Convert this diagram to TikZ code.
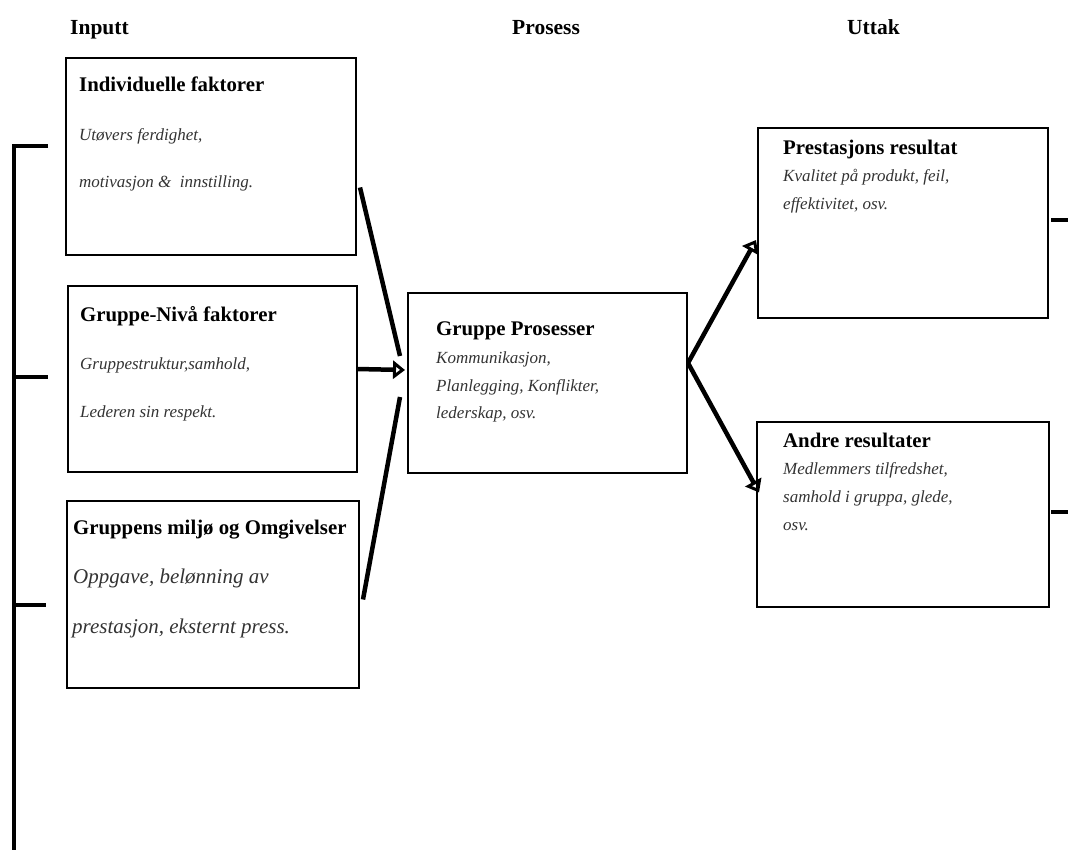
\documentclass[tikz,border=0pt]{standalone}
\usepackage{fontspec}
\setmainfont{Liberation Serif}
\usetikzlibrary{calc,arrows.meta}
\begin{document}
\begin{tikzpicture}[x=1pt,y=-1pt,
  box/.style={draw, line width=1.3pt, anchor=north west, inner sep=0pt, outer sep=0pt},
  ttl/.style={anchor=base west, font=\fontsize{20.8}{24}\selectfont\bfseries, inner sep=0pt},
  desc/.style={anchor=base west, font=\fontsize{17}{20}\selectfont\itshape, text=black!80, inner sep=0pt},
  descbig/.style={anchor=base west, font=\fontsize{21}{24}\selectfont\itshape, text=black!80, inner sep=0pt},
  hdr/.style={anchor=base west, font=\fontsize{21.5}{24}\selectfont\bfseries, inner sep=0pt},
  flow/.style={line width=4.5pt},
  flowarrow/.style={line width=4.5pt, -{Triangle[open,length=12pt,width=18pt,line width=3.5pt]}},
  brk/.style={line width=3.2pt}]
\useasboundingbox (0,0) rectangle (1068,850);

% headers
\node[hdr] (hin) at (70,35) {Inputt};
\node[hdr] (hpro) at (512,35) {Prosess};
\node[hdr] (hut) at (847,35) {Uttak};

% boxes
\node[box, minimum width=290pt, minimum height=197pt] (b1) at (66,58) {};
\node[box, minimum width=289pt, minimum height=186pt] (b2) at (68,286) {};
\node[box, minimum width=292pt, minimum height=187pt] (b3) at (67,501) {};
\node[box, minimum width=279pt, minimum height=180pt] (bp) at (408,293) {};
\node[box, minimum width=290pt, minimum height=190pt] (r1) at (758,128) {};
\node[box, minimum width=292pt, minimum height=185pt] (r2) at (757,422) {};

% texts box 1
\node[ttl] (t1) at (79,92) {Individuelle faktorer};
\node[desc] (t1a) at (79,141) {Utøvers ferdighet,};
\node[desc] (t1b) at (79,188) {motivasjon \&\ \ innstilling.};
% box 2
\node[ttl] (t2) at (80,322) {Gruppe-Nivå faktorer};
\node[desc] (t2a) at (80,369) {Gruppestruktur,samhold,};
\node[desc] (t2b) at (80,417) {Lederen sin respekt.};
% box 3
\node[ttl] (t3) at (73,534) {Gruppens miljø og Omgivelser};
\node[descbig] (t3a) at (73,583) {Oppgave, belønning av};
\node[descbig] (t3b) at (72,633) {prestasjon, eksternt press.};
% process box
\node[ttl] (tp) at (436,335) {Gruppe Prosesser};
\node[desc] (tpa) at (436,363) {Kommunikasjon,};
\node[desc] (tpb) at (436,391) {Planlegging, Konflikter,};
\node[desc] (tpc) at (436,418) {lederskap, osv.};
% result 1
\node[ttl] (tr1) at (783,155) {Prestasjons resultat};
\node[desc] (tr1a) at (783,182) {Kvalitet på produkt, feil,};
\node[desc] (tr1b) at (783,210) {effektivitet, osv.};
% result 2
\node[ttl] (tr2) at (783,447) {Andre resultater};
\node[desc] (tr2a) at (783,474) {Medlemmers tilfredshet,};
\node[desc] (tr2b) at (783,502) {samhold i gruppa, glede,};
\node[desc] (tr2c) at (783,530) {osv.};

% left bracket
\coordinate (lbtop) at (14,146);
\coordinate (lbbot) at (14,850);
\draw[brk] (48,146) -- (lbtop) -- (lbbot);
\draw[brk] (14,377) -- (48,377);
\draw[brk] (14,605) -- (46,605);

% right ticks
\draw[brk] ($(r1.east)+(3,-3)$) -- (1068,220);
\draw[brk] ($(r2.east)+(2,-2.5)$) -- (1068,512);

% input flows
\coordinate (j1) at (400,356);
\coordinate (j3) at (400,397);
\draw[flow] ($(b1.east)+(4,31)$) -- (j1);
\draw[flowarrow] ($(b2.east)+(0,-10)$) -- ($(bp.west)+(-3,-13)$);
\draw[flow] (j3) -- ($(b3.east)+(4,5)$);

% output flows
\coordinate (split) at ($(bp.east)+(1,-20)$);
\draw[flowarrow] (split) -- ($(r1.west)+(-2,17)$);
\draw[flowarrow] (split) -- ($(r2.west)+(2,-22)$);
\end{tikzpicture}
\end{document}
